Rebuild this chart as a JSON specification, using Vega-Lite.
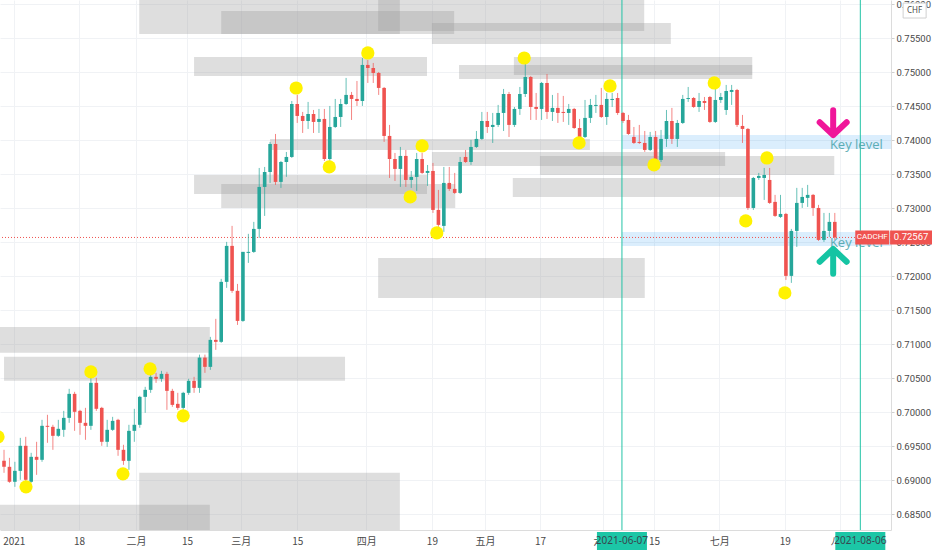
{
  "$schema": "https://vega.github.io/schema/vega-lite/v6.json",
  "width": 891,
  "height": 530,
  "autosize": {"type": "none"},
  "padding": {"left": 0, "top": 0, "right": 41, "bottom": 20},
  "background": "white",
  "config": {
    "view": {"stroke": null},
    "axisX": {"labelOverlap": false, "labelFlush": false},
    "axisY": {"labelOverlap": false, "labelFlush": false}
  },
  "datasets": {
    "candles": [
      {"bar":0,"open":0.69282,"high":0.69444,"low":0.69106,"close":0.69194},
      {"bar":1,"open":0.69194,"high":0.69326,"low":0.68959,"close":0.68974},
      {"bar":2,"open":0.68974,"high":0.69268,"low":0.68900,"close":0.69135},
      {"bar":3,"open":0.69135,"high":0.69620,"low":0.69003,"close":0.69503},
      {"bar":4,"open":0.69503,"high":0.69635,"low":0.68900,"close":0.69003},
      {"bar":5,"open":0.68974,"high":0.69400,"low":0.68959,"close":0.69341},
      {"bar":6,"open":0.69341,"high":0.69562,"low":0.69076,"close":0.69297},
      {"bar":7,"open":0.69297,"high":0.69885,"low":0.69268,"close":0.69797},
      {"bar":8,"open":0.69797,"high":0.69959,"low":0.69547,"close":0.69782},
      {"bar":9,"open":0.69782,"high":0.69812,"low":0.69444,"close":0.69650},
      {"bar":10,"open":0.69650,"high":0.69885,"low":0.69635,"close":0.69753},
      {"bar":11,"open":0.69738,"high":0.70017,"low":0.69635,"close":0.69914},
      {"bar":12,"open":0.69914,"high":0.70341,"low":0.69841,"close":0.70267},
      {"bar":13,"open":0.70267,"high":0.70297,"low":0.69723,"close":0.70003},
      {"bar":14,"open":0.70017,"high":0.70032,"low":0.69665,"close":0.69841},
      {"bar":15,"open":0.69841,"high":0.70061,"low":0.69591,"close":0.69797},
      {"bar":16,"open":0.69797,"high":0.70517,"low":0.69738,"close":0.70429},
      {"bar":17,"open":0.70429,"high":0.70503,"low":0.70017,"close":0.70047},
      {"bar":18,"open":0.70061,"high":0.70076,"low":0.69503,"close":0.69562},
      {"bar":19,"open":0.69562,"high":0.69885,"low":0.69488,"close":0.69738},
      {"bar":20,"open":0.69738,"high":0.69929,"low":0.69723,"close":0.69870},
      {"bar":21,"open":0.69885,"high":0.69900,"low":0.69356,"close":0.69444},
      {"bar":22,"open":0.69444,"high":0.69518,"low":0.69223,"close":0.69282},
      {"bar":23,"open":0.69282,"high":0.69812,"low":0.69150,"close":0.69723},
      {"bar":24,"open":0.69723,"high":0.70047,"low":0.69562,"close":0.69812},
      {"bar":25,"open":0.69812,"high":0.70238,"low":0.69768,"close":0.70223},
      {"bar":26,"open":0.70223,"high":0.70370,"low":0.69988,"close":0.70326},
      {"bar":27,"open":0.70326,"high":0.70576,"low":0.70282,"close":0.70517},
      {"bar":28,"open":0.70517,"high":0.70576,"low":0.70429,"close":0.70488},
      {"bar":29,"open":0.70488,"high":0.70605,"low":0.70444,"close":0.70561},
      {"bar":30,"open":0.70561,"high":0.70591,"low":0.70032,"close":0.70311},
      {"bar":31,"open":0.70311,"high":0.70341,"low":0.70076,"close":0.70105},
      {"bar":32,"open":0.70120,"high":0.70282,"low":0.70032,"close":0.70061},
      {"bar":33,"open":0.70061,"high":0.70297,"low":0.70032,"close":0.70282},
      {"bar":34,"open":0.70282,"high":0.70488,"low":0.70253,"close":0.70458},
      {"bar":35,"open":0.70458,"high":0.70517,"low":0.70282,"close":0.70355},
      {"bar":36,"open":0.70355,"high":0.70844,"low":0.70282,"close":0.70800},
      {"bar":37,"open":0.70800,"high":0.70844,"low":0.70576,"close":0.70664},
      {"bar":38,"open":0.70664,"high":0.71105,"low":0.70620,"close":0.71061},
      {"bar":39,"open":0.71061,"high":0.71370,"low":0.70914,"close":0.71032},
      {"bar":40,"open":0.71032,"high":0.71958,"low":0.71017,"close":0.71914},
      {"bar":41,"open":0.71914,"high":0.72502,"low":0.71826,"close":0.72443},
      {"bar":42,"open":0.72443,"high":0.72737,"low":0.71752,"close":0.71782},
      {"bar":43,"open":0.71782,"high":0.71884,"low":0.71281,"close":0.71340},
      {"bar":44,"open":0.71340,"high":0.72355,"low":0.71326,"close":0.72355},
      {"bar":45,"open":0.72340,"high":0.72620,"low":0.72193,"close":0.72355},
      {"bar":46,"open":0.72355,"high":0.72796,"low":0.72340,"close":0.72693},
      {"bar":47,"open":0.72693,"high":0.73589,"low":0.72561,"close":0.73310},
      {"bar":48,"open":0.73310,"high":0.73604,"low":0.72884,"close":0.73530},
      {"bar":49,"open":0.73530,"high":0.73972,"low":0.73369,"close":0.73942},
      {"bar":50,"open":0.73942,"high":0.74089,"low":0.73340,"close":0.73384},
      {"bar":51,"open":0.73384,"high":0.73692,"low":0.73296,"close":0.73677},
      {"bar":52,"open":0.73677,"high":0.73824,"low":0.73458,"close":0.73751},
      {"bar":53,"open":0.73751,"high":0.74574,"low":0.73736,"close":0.74530},
      {"bar":54,"open":0.74530,"high":0.74663,"low":0.74251,"close":0.74354},
      {"bar":55,"open":0.74354,"high":0.74413,"low":0.74104,"close":0.74280},
      {"bar":56,"open":0.74280,"high":0.74560,"low":0.74163,"close":0.74383},
      {"bar":57,"open":0.74383,"high":0.74442,"low":0.74104,"close":0.74266},
      {"bar":58,"open":0.74266,"high":0.74457,"low":0.74104,"close":0.74310},
      {"bar":59,"open":0.74310,"high":0.74457,"low":0.73692,"close":0.73721},
      {"bar":60,"open":0.73721,"high":0.74501,"low":0.73692,"close":0.74192},
      {"bar":61,"open":0.74192,"high":0.74604,"low":0.74177,"close":0.74339},
      {"bar":62,"open":0.74339,"high":0.74604,"low":0.74192,"close":0.74530},
      {"bar":63,"open":0.74530,"high":0.74913,"low":0.74516,"close":0.74663},
      {"bar":64,"open":0.74663,"high":0.74707,"low":0.74295,"close":0.74604},
      {"bar":65,"open":0.74604,"high":0.74868,"low":0.74501,"close":0.74574},
      {"bar":66,"open":0.74574,"high":0.75206,"low":0.74501,"close":0.75104},
      {"bar":67,"open":0.75104,"high":0.75177,"low":0.74839,"close":0.75059},
      {"bar":68,"open":0.75059,"high":0.75133,"low":0.74839,"close":0.74986},
      {"bar":69,"open":0.74986,"high":0.75001,"low":0.74663,"close":0.74766},
      {"bar":70,"open":0.74766,"high":0.74780,"low":0.73972,"close":0.74060},
      {"bar":71,"open":0.74060,"high":0.74222,"low":0.73442,"close":0.73721},
      {"bar":72,"open":0.73721,"high":0.73810,"low":0.73398,"close":0.73575},
      {"bar":73,"open":0.73575,"high":0.73898,"low":0.73310,"close":0.73766},
      {"bar":74,"open":0.73766,"high":0.73854,"low":0.73310,"close":0.73413},
      {"bar":75,"open":0.73413,"high":0.73545,"low":0.73296,"close":0.73457},
      {"bar":76,"open":0.73457,"high":0.73810,"low":0.73252,"close":0.73721},
      {"bar":77,"open":0.73721,"high":0.73810,"low":0.73501,"close":0.73516},
      {"bar":78,"open":0.73516,"high":0.73633,"low":0.73325,"close":0.73545},
      {"bar":79,"open":0.73545,"high":0.73663,"low":0.72928,"close":0.72972},
      {"bar":80,"open":0.72972,"high":0.73266,"low":0.72722,"close":0.72752},
      {"bar":81,"open":0.72737,"high":0.73604,"low":0.72649,"close":0.73369},
      {"bar":82,"open":0.73369,"high":0.73604,"low":0.73252,"close":0.73281},
      {"bar":83,"open":0.73281,"high":0.73516,"low":0.73207,"close":0.73222},
      {"bar":84,"open":0.73222,"high":0.73751,"low":0.73207,"close":0.73677},
      {"bar":85,"open":0.73751,"high":0.73854,"low":0.73663,"close":0.73677},
      {"bar":86,"open":0.73677,"high":0.74001,"low":0.73634,"close":0.73898},
      {"bar":87,"open":0.73898,"high":0.74133,"low":0.73883,"close":0.74016},
      {"bar":88,"open":0.74016,"high":0.74413,"low":0.74001,"close":0.74280},
      {"bar":89,"open":0.74280,"high":0.74413,"low":0.74104,"close":0.74192},
      {"bar":90,"open":0.74192,"high":0.74398,"low":0.73957,"close":0.74222},
      {"bar":91,"open":0.74222,"high":0.74516,"low":0.74192,"close":0.74398},
      {"bar":92,"open":0.74398,"high":0.74751,"low":0.74133,"close":0.74677},
      {"bar":93,"open":0.74677,"high":0.74707,"low":0.74045,"close":0.74222},
      {"bar":94,"open":0.74222,"high":0.74486,"low":0.74192,"close":0.74457},
      {"bar":95,"open":0.74457,"high":0.74780,"low":0.74369,"close":0.74677},
      {"bar":96,"open":0.74677,"high":0.75206,"low":0.74633,"close":0.74927},
      {"bar":97,"open":0.74927,"high":0.74942,"low":0.74295,"close":0.74486},
      {"bar":98,"open":0.74486,"high":0.74692,"low":0.74295,"close":0.74457},
      {"bar":99,"open":0.74457,"high":0.74854,"low":0.74295,"close":0.74839},
      {"bar":100,"open":0.74839,"high":0.74971,"low":0.74310,"close":0.74413},
      {"bar":101,"open":0.74413,"high":0.74663,"low":0.74280,"close":0.74472},
      {"bar":102,"open":0.74472,"high":0.74692,"low":0.74251,"close":0.74398},
      {"bar":103,"open":0.74413,"high":0.74648,"low":0.74266,"close":0.74398},
      {"bar":104,"open":0.74398,"high":0.74530,"low":0.74222,"close":0.74457},
      {"bar":105,"open":0.74457,"high":0.74472,"low":0.74163,"close":0.74177},
      {"bar":106,"open":0.74177,"high":0.74310,"low":0.74030,"close":0.74045},
      {"bar":107,"open":0.74045,"high":0.74589,"low":0.74030,"close":0.74325},
      {"bar":108,"open":0.74325,"high":0.74604,"low":0.74251,"close":0.74516},
      {"bar":109,"open":0.74501,"high":0.74663,"low":0.74398,"close":0.74516},
      {"bar":110,"open":0.74516,"high":0.74766,"low":0.74325,"close":0.74339},
      {"bar":111,"open":0.74339,"high":0.74692,"low":0.74222,"close":0.74604},
      {"bar":112,"open":0.74589,"high":0.74692,"low":0.74486,"close":0.74604},
      {"bar":113,"open":0.74618,"high":0.74692,"low":0.74369,"close":0.74398},
      {"bar":114,"open":0.74398,"high":0.74413,"low":0.74251,"close":0.74280},
      {"bar":115,"open":0.74295,"high":0.74369,"low":0.74075,"close":0.74089},
      {"bar":116,"open":0.74045,"high":0.74192,"low":0.73942,"close":0.73957},
      {"bar":117,"open":0.73972,"high":0.74222,"low":0.73942,"close":0.73957},
      {"bar":118,"open":0.73957,"high":0.74133,"low":0.73825,"close":0.73854},
      {"bar":119,"open":0.73854,"high":0.74119,"low":0.73839,"close":0.74045},
      {"bar":120,"open":0.74045,"high":0.74133,"low":0.73677,"close":0.73707},
      {"bar":121,"open":0.73707,"high":0.74148,"low":0.73677,"close":0.74016},
      {"bar":122,"open":0.74016,"high":0.74442,"low":0.73898,"close":0.74280},
      {"bar":123,"open":0.74280,"high":0.74472,"low":0.73942,"close":0.74016},
      {"bar":124,"open":0.74016,"high":0.74295,"low":0.73898,"close":0.74251},
      {"bar":125,"open":0.74251,"high":0.74663,"low":0.74236,"close":0.74604},
      {"bar":126,"open":0.74604,"high":0.74780,"low":0.74560,"close":0.74618},
      {"bar":127,"open":0.74618,"high":0.74633,"low":0.74472,"close":0.74486},
      {"bar":128,"open":0.74486,"high":0.74692,"low":0.74413,"close":0.74574},
      {"bar":129,"open":0.74574,"high":0.74633,"low":0.74442,"close":0.74545},
      {"bar":130,"open":0.74633,"high":0.74648,"low":0.74251,"close":0.74266},
      {"bar":131,"open":0.74266,"high":0.74780,"low":0.74251,"close":0.74589},
      {"bar":132,"open":0.74589,"high":0.74692,"low":0.74545,"close":0.74633},
      {"bar":133,"open":0.74442,"high":0.74810,"low":0.74369,"close":0.74721},
      {"bar":134,"open":0.74707,"high":0.74810,"low":0.74516,"close":0.74736},
      {"bar":135,"open":0.74736,"high":0.74751,"low":0.74192,"close":0.74222},
      {"bar":136,"open":0.74207,"high":0.74369,"low":0.73957,"close":0.74163},
      {"bar":137,"open":0.74163,"high":0.74177,"low":0.72972,"close":0.73001},
      {"bar":138,"open":0.73001,"high":0.73457,"low":0.72972,"close":0.73442},
      {"bar":139,"open":0.73442,"high":0.73516,"low":0.73413,"close":0.73472},
      {"bar":140,"open":0.73442,"high":0.73589,"low":0.73119,"close":0.73486},
      {"bar":141,"open":0.73413,"high":0.73589,"low":0.73060,"close":0.73075},
      {"bar":142,"open":0.73090,"high":0.73193,"low":0.72869,"close":0.72884},
      {"bar":143,"open":0.72869,"high":0.73193,"low":0.72854,"close":0.72913},
      {"bar":144,"open":0.72913,"high":0.72928,"low":0.71943,"close":0.72002},
      {"bar":145,"open":0.72002,"high":0.72693,"low":0.71899,"close":0.72663},
      {"bar":146,"open":0.72663,"high":0.73296,"low":0.72428,"close":0.73075},
      {"bar":147,"open":0.73075,"high":0.73296,"low":0.73001,"close":0.73163},
      {"bar":148,"open":0.73149,"high":0.73340,"low":0.73016,"close":0.73193},
      {"bar":149,"open":0.73193,"high":0.73207,"low":0.72884,"close":0.73001},
      {"bar":150,"open":0.73001,"high":0.73046,"low":0.72516,"close":0.72531},
      {"bar":151,"open":0.72531,"high":0.72928,"low":0.72502,"close":0.72663},
      {"bar":152,"open":0.72663,"high":0.72928,"low":0.72575,"close":0.72796},
      {"bar":153,"open":0.72796,"high":0.72928,"low":0.72531,"close":0.72567}
    ],
    "zones": [
      {"from":24.9,"to":72.9,"top":0.7606,"bottom":0.75559},
      {"from":40.0,"to":82.9,"top":0.75897,"bottom":0.75559},
      {"from":68.9,"to":117.9,"top":0.7606,"bottom":0.75603},
      {"from":78.8,"to":122.8,"top":0.75721,"bottom":0.75412},
      {"from":35.0,"to":77.9,"top":0.75221,"bottom":0.74941},
      {"from":93.9,"to":137.8,"top":0.75221,"bottom":0.74956},
      {"from":83.8,"to":137.8,"top":0.75103,"bottom":0.74897},
      {"from":49.0,"to":107.9,"top":0.74015,"bottom":0.73853},
      {"from":35.0,"to":77.9,"top":0.73486,"bottom":0.73206},
      {"from":40.0,"to":83.1,"top":0.73353,"bottom":0.73000},
      {"from":78.8,"to":132.8,"top":0.73824,"bottom":0.73618},
      {"from":98.7,"to":152.9,"top":0.73765,"bottom":0.73486},
      {"from":93.7,"to":136.8,"top":0.73442,"bottom":0.73162},
      {"from":68.9,"to":118.0,"top":0.72265,"bottom":0.71677},
      {"from":-1.0,"to":37.9,"top":0.71252,"bottom":0.70870},
      {"from":0.0,"to":62.8,"top":0.70811,"bottom":0.70458},
      {"from":24.9,"to":72.9,"top":0.69106,"bottom":0.6826},
      {"from":-1.0,"to":37.9,"top":0.68636,"bottom":0.6826}
    ],
    "levels": [
      {"from":113.8,"to":164,"top":0.74074,"bottom":0.73868},
      {"from":113.8,"to":164,"top":0.72649,"bottom":0.72443}
    ],
    "pivots": [
      {"bar":-1.1,"price":0.69635},{"bar":4.05,"price":0.68900},{"bar":16.0,"price":0.70590},
      {"bar":21.9,"price":0.69091},{"bar":26.9,"price":0.70635},{"bar":33.0,"price":0.69944},
      {"bar":53.8,"price":0.74765},{"bar":59.9,"price":0.73604},{"bar":67.0,"price":0.75280},
      {"bar":74.8,"price":0.73163},{"bar":77.0,"price":0.73913},{"bar":79.7,"price":0.72634},
      {"bar":95.8,"price":0.75206},{"bar":105.9,"price":0.73957},{"bar":111.6,"price":0.74795},
      {"bar":119.7,"price":0.73634},{"bar":130.8,"price":0.74839},{"bar":136.6,"price":0.72810},
      {"bar":140.5,"price":0.73736},{"bar":143.8,"price":0.71752}
    ],
    "lines": [
      {"bar":113.8,"date":"2021-06-07"},
      {"bar":157.7,"date":"2021-08-06"}
    ],
    "notes": [
      {"bar":152.1,"price":0.73927,"label":"Key level"},
      {"bar":152.1,"price":0.72487,"label":"Key level"}
    ],
    "arrows": [
      {"bar":152.7,"price":0.74250,"dir":"down"},
      {"bar":152.7,"price":0.72221,"dir":"up"}
    ],
    "quote": [
      {"symbol":"CADCHF","currency":"CHF","last":0.72567}
    ]
  },
  "layer": [
    {
      "data": {"name": "zones"},
      "mark": {"type": "rect", "fill": "#999999", "fillOpacity": 0.32, "clip": true},
      "encoding": {
        "x": {
          "field": "from", "type": "quantitative", "title": null,
          "scale": {"domain": [-0.74, 163.35], "nice": false, "zero": false, "padding": 0},
          "axis": {
            "title": null,
            "values": [1.8, 13.8, 24.3, 33.7, 43.6, 54.0, 66.7, 78.8, 88.6, 98.7, 110.3, 119.7, 131.7, 143.8, 154.0],
            "tickCount": 40,
            "labelExpr": "datum.value < 5 ? '2021' : datum.value < 20 ? '18' : datum.value < 30 ? '二月' : datum.value < 40 ? '15' : datum.value < 50 ? '三月' : datum.value < 60 ? '15' : datum.value < 70 ? '四月' : datum.value < 80 ? '19' : datum.value < 90 ? '五月' : datum.value < 105 ? '17' : datum.value < 115 ? '六月' : datum.value < 125 ? '15' : datum.value < 135 ? '七月' : datum.value < 150 ? '19' : '八月'",
            "grid": true, "gridColor": "#f0f2f5",
            "ticks": false, "domainColor": "#dcdcdc",
            "labelColor": "#4a4a4a", "labelFontSize": 10, "labelPadding": 6,
            "labelFont": "Noto Sans CJK SC", "labelFlush": false, "labelOverlap": false
          }
        },
        "x2": {"field": "to"},
        "y": {
          "field": "top", "type": "quantitative", "title": null,
          "scale": {"domain": [0.68265, 0.76059], "nice": false, "zero": false, "padding": 0},
          "axis": {
            "title": null, "orient": "right",
            "values": [0.685, 0.69, 0.695, 0.7, 0.705, 0.71, 0.715, 0.72, 0.725, 0.73, 0.735, 0.74, 0.745, 0.75, 0.755, 0.76],
            "tickCount": 40,
            "format": ".5f",
            "grid": true, "gridColor": "#f0f2f5",
            "tickSize": 3, "tickColor": "#cfcfcf", "domainColor": "#dcdcdc",
            "labelColor": "#4a4a4a", "labelFontSize": 9.5, "labelPadding": 2,
            "labelFont": "Roboto", "labelFlush": false, "labelOverlap": false
          }
        },
        "y2": {"field": "bottom"}
      }
    },
    {
      "data": {"name": "levels"},
      "mark": {"type": "rect", "fill": "#2196f3", "fillOpacity": 0.16, "clip": true},
      "encoding": {
        "x": {"field": "from", "type": "quantitative", "title": null},
        "x2": {"field": "to"},
        "y": {"field": "top", "type": "quantitative", "title": null},
        "y2": {"field": "bottom"}
      }
    },
    {
      "data": {"name": "lines"},
      "mark": {"type": "rule", "color": "#22c3a6", "strokeWidth": 1},
      "encoding": {
        "x": {"field": "bar", "type": "quantitative", "title": null}
      }
    },
    {
      "data": {"name": "quote"},
      "mark": {"type": "rule", "color": "#ef5350", "strokeWidth": 1, "strokeDash": [1, 2]},
      "encoding": {
        "y": {"field": "last", "type": "quantitative", "title": null}
      }
    },
    {
      "data": {"name": "candles"},
      "mark": {"type": "rule", "strokeWidth": 1, "opacity": 0.7},
      "encoding": {
        "x": {"field": "bar", "type": "quantitative", "title": null},
        "y": {"field": "low", "type": "quantitative", "title": null},
        "y2": {"field": "high"},
        "color": {"condition": {"test": "datum.close >= datum.open", "value": "#26a69a"}, "value": "#ef5350"}
      }
    },
    {
      "data": {"name": "candles"},
      "mark": {"type": "bar", "width": 3.6},
      "encoding": {
        "x": {"field": "bar", "type": "quantitative", "title": null},
        "y": {"field": "open", "type": "quantitative", "title": null},
        "y2": {"field": "close"},
        "color": {"condition": {"test": "datum.close >= datum.open", "value": "#26a69a"}, "value": "#ef5350"}
      }
    },
    {
      "data": {"name": "pivots"},
      "mark": {"type": "circle", "size": 175, "color": "#fff200", "opacity": 1, "clip": true},
      "encoding": {
        "x": {"field": "bar", "type": "quantitative", "title": null},
        "y": {"field": "price", "type": "quantitative", "title": null}
      }
    },
    {
      "data": {"name": "notes"},
      "mark": {"type": "text", "align": "left", "baseline": "middle", "font": "Open Sans", "fontSize": 13, "color": "#4fa7ae", "opacity": 0.9},
      "encoding": {
        "x": {"field": "bar", "type": "quantitative", "title": null},
        "y": {"field": "price", "type": "quantitative", "title": null},
        "text": {"field": "label"}
      }
    },
    {
      "data": {"name": "arrows"},
      "mark": {"type": "point", "filled": false, "size": 900, "strokeWidth": 6, "strokeCap": "round", "strokeJoin": "round", "opacity": 1},
      "encoding": {
        "x": {"field": "bar", "type": "quantitative", "title": null},
        "y": {"field": "price", "type": "quantitative", "title": null},
        "shape": {"field": "dir", "type": "nominal", "legend": null, "scale": {"domain": ["down", "up"], "range": ["M0,-0.85L0,0.8M-0.9,-0.05L0,0.8L0.9,-0.05", "M0,0.85L0,-0.8M-0.9,0.05L0,-0.8L0.9,0.05"]}},
        "color": {"field": "dir", "type": "nominal", "legend": null, "scale": {"domain": ["down", "up"], "range": ["#f0169a", "#15c4a3"]}}
      }
    },
    {
      "data": {"name": "lines"},
      "mark": {"type": "point", "shape": "M-1,-0.36L1,-0.36L1,0.36L-1,0.36Z", "size": 2500, "filled": true, "color": "#1cc6a6", "opacity": 1},
      "encoding": {
        "x": {"field": "bar", "type": "quantitative", "title": null},
        "y": {"datum": 0.68103, "type": "quantitative", "title": null}
      }
    },
    {
      "data": {"name": "lines"},
      "mark": {"type": "text", "font": "Noto Sans", "fontSize": 10, "color": "#37474f", "baseline": "middle"},
      "encoding": {
        "x": {"field": "bar", "type": "quantitative", "title": null},
        "y": {"datum": 0.68103, "type": "quantitative", "title": null},
        "text": {"field": "date"}
      }
    },
    {
      "data": {"name": "quote"},
      "mark": {"type": "point", "shape": "M-1,-0.41L1,-0.41L1,0.41L-1,0.41Z", "size": 1156, "filled": true, "color": "#ef5350", "opacity": 1},
      "encoding": {
        "x": {"datum": 159.9, "type": "quantitative", "title": null},
        "y": {"field": "last", "type": "quantitative", "title": null}
      }
    },
    {
      "data": {"name": "quote"},
      "mark": {"type": "point", "shape": "M-1,-0.333L1,-0.333L1,0.333L-1,0.333Z", "size": 1764, "filled": true, "color": "#ef5350", "opacity": 1},
      "encoding": {
        "x": {"datum": 167.05, "type": "quantitative", "title": null},
        "y": {"field": "last", "type": "quantitative", "title": null}
      }
    },
    {
      "data": {"name": "quote"},
      "mark": {"type": "text", "font": "Roboto", "fontSize": 8, "color": "white", "baseline": "middle"},
      "encoding": {
        "x": {"datum": 159.9, "type": "quantitative", "title": null},
        "y": {"field": "last", "type": "quantitative", "title": null},
        "text": {"field": "symbol"}
      }
    },
    {
      "data": {"name": "quote"},
      "mark": {"type": "text", "font": "Roboto", "fontSize": 9.5, "color": "white", "baseline": "middle"},
      "encoding": {
        "x": {"datum": 167.05, "type": "quantitative", "title": null},
        "y": {"field": "last", "type": "quantitative", "title": null},
        "text": {"field": "last", "format": ".5f"}
      }
    },
    {
      "data": {"name": "quote"},
      "mark": {"type": "point", "shape": "M-1,-0.65L1,-0.65L1,0.65L-1,0.65Z", "size": 529, "filled": true, "fill": "white", "stroke": "#d0d0d0", "strokeWidth": 1, "opacity": 1},
      "encoding": {
        "x": {"datum": 167.7, "type": "quantitative", "title": null},
        "y": {"datum": 0.75904, "type": "quantitative", "title": null}
      }
    },
    {
      "data": {"name": "quote"},
      "mark": {"type": "text", "font": "Noto Sans", "fontSize": 8, "color": "#4a4a4a", "baseline": "middle"},
      "encoding": {
        "x": {"datum": 167.7, "type": "quantitative", "title": null},
        "y": {"datum": 0.75904, "type": "quantitative", "title": null},
        "text": {"field": "currency"}
      }
    }
  ]
}
